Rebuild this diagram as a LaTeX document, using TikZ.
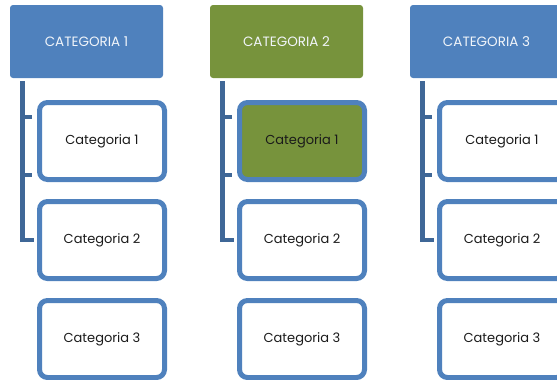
\documentclass[tikz,border=0pt]{standalone}
\usepackage{fontspec}
\setmainfont{Poppins}
\definecolor{hblue}{HTML}{4F81BD}
\definecolor{hgreen}{HTML}{77933C}
\definecolor{lblue}{HTML}{3F6797}
\definecolor{tdark}{HTML}{1A1A1A}
\tikzset{
  header/.style={rectangle, rounded corners=3pt, minimum width=153pt, minimum height=73pt, inner sep=0pt, text=white!92!hblue, font=\fontsize{13.5}{16}\selectfont},
  child/.style={rectangle, rounded corners=8pt, draw=hblue, line width=5pt, fill=white, minimum width=125pt, minimum height=77pt, inner sep=0pt, text=tdark, font=\fontsize{13}{16}\selectfont},
  conn/.style={draw=lblue, line width=4.5pt}
}
\begin{document}
\begin{tikzpicture}[x=1pt,y=-1pt]
\useasboundingbox (0,0) rectangle (557,380);
\clip (0,0) rectangle (557,380);
\foreach \i/\c in {0/hblue,1/hgreen,2/hblue}{
  \pgfmathtruncatemacro{\n}{\i+1}
  \begin{scope}[xshift=\i*200pt]
    \node[header, fill=\c] (h\n) at (86.5,41.5) {CATEGORIA \n};
    \ifnum\n=2
      \node[child, fill=hgreen] (a\n) at (102,141) {Categoria 1};
    \else
      \node[child] (a\n) at (102,141) {Categoria 1};
    \fi
    \node[child] (b\n) at (102,240) {Categoria 2};
    \node[child] (c\n) at (102,339) {Categoria 3};
    \coordinate (t\n) at ([xshift=12.5pt,yshift=-3pt]h\n.south west);
    \draw[conn] (t\n) |- ([xshift=-3pt]b\n.west);
    \draw[conn] ([xshift=-2pt]t\n |- a\n.north) ++(0,17) -- ++(12,0);
    \draw[conn] ([xshift=-2pt]t\n |- a\n.south) ++(0,-7) -- ++(12,0);
  \end{scope}
}
\end{tikzpicture}
\end{document}
